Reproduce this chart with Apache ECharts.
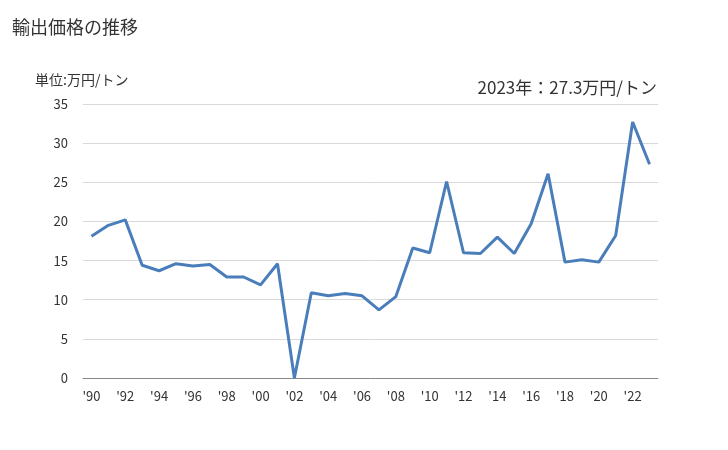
<!DOCTYPE html>
<html><head><meta charset="utf-8">
<script src="https://cdn.jsdelivr.net/npm/echarts@6/dist/echarts.min.js"></script>
<style>html,body{margin:0;padding:0;background:#fff}#c{width:728px;height:450px}</style>
</head><body><div id="c"></div>
<script>
const years = ["'90","'91","'92","'93","'94","'95","'96","'97","'98","'99","'00","'01","'02","'03","'04","'05","'06","'07","'08","'09","'10","'11","'12","'13","'14","'15","'16","'17","'18","'19","'20","'21","'22","'23"];
const values = [18.1,19.5,20.2,14.4,13.7,14.6,14.3,14.5,12.9,12.9,11.9,14.6,0,10.9,10.5,10.8,10.5,8.7,10.4,16.6,16.0,25.1,16.0,15.9,18.0,15.9,19.7,26.1,14.8,15.1,14.8,18.2,32.7,27.3];
const yTicks = [0,5,10,15,20,25,30,35];
const titleText = '輸出価格の推移';
const unitText = '単位:万円/トン';
const noteText = '2023年：27.3万円/トン';
const font = '"Noto Sans CJK JP", "Noto Sans", sans-serif';
const chart = echarts.init(document.getElementById('c'), null, {renderer:'canvas'});
chart.setOption({
  animation:false,
  textStyle:{fontFamily:font},
  title:[
    {text:titleText,left:12,top:18,padding:0,textStyle:{fontSize:18,fontWeight:'normal',color:'#333',fontFamily:font}},
    {text:unitText,left:35,top:73,padding:0,textStyle:{fontSize:14,fontWeight:'normal',color:'#333',fontFamily:font}},
    {text:noteText,right:71,top:79,padding:0,textStyle:{fontSize:17,fontWeight:'normal',color:'#333',fontFamily:font}}
  ],
  grid:{left:83,right:70,top:104,bottom:72,containLabel:false},
  xAxis:{type:'category',data:years,boundaryGap:true,
    axisLine:{lineStyle:{color:'#888',width:1}},
    axisTick:{show:false},
    axisLabel:{interval:1,color:'#333',fontSize:13,margin:12,fontFamily:font}},
  yAxis:{type:'value',min:yTicks[0],max:yTicks[yTicks.length-1],interval:5,
    axisLine:{show:false},axisTick:{show:false},
    splitLine:{lineStyle:{color:'#d9d9d9',width:1}},
    axisLabel:{color:'#333',fontSize:13,margin:15,fontFamily:font}},
  series:[{type:'line',data:values,symbol:'none',lineStyle:{color:'#4a7ebb',width:3},itemStyle:{color:'#4a7ebb'}}]
});
</script></body></html>
